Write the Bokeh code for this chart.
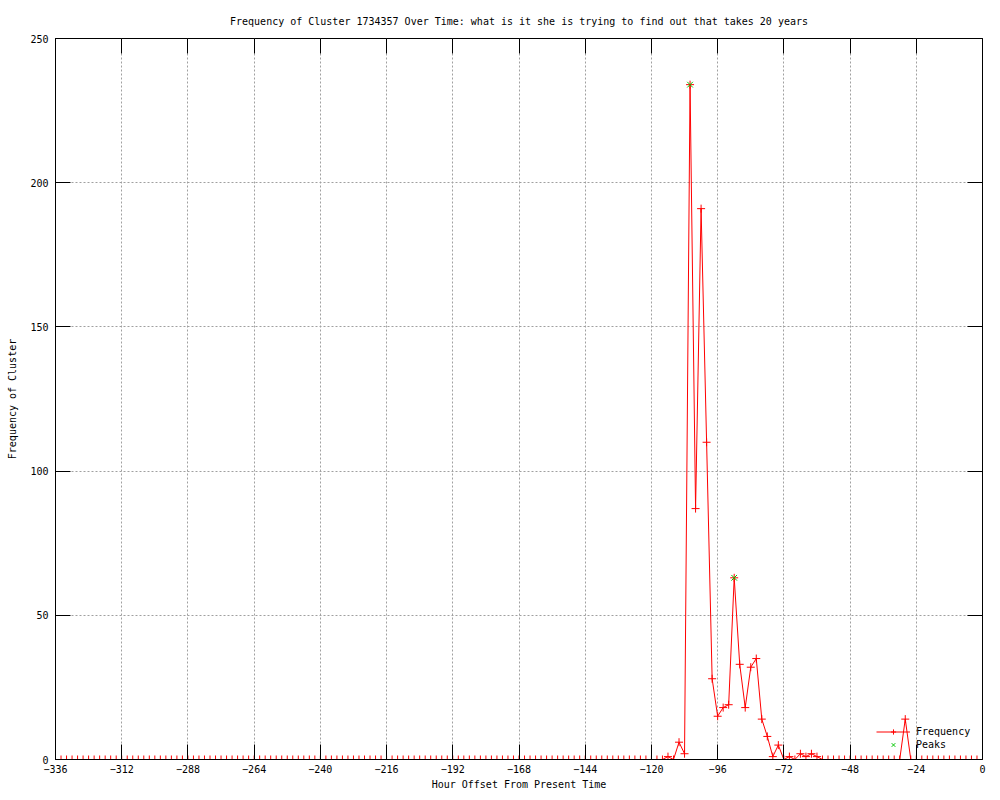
from bokeh.plotting import figure
from bokeh.models import Range1d, FixedTicker, LinearAxis, Legend, LegendItem, ColumnDataSource
from bokeh.embed import file_html
from bokeh.resources import INLINE

TITLE = "Frequency of Cluster 1734357 Over Time: what is it she is trying to find out that takes 20 years"
X_LABEL = "Hour Offset From Present Time"
Y_LABEL = "Frequency of Cluster"

# hours sampled every 2 hours from -336 to 0
hours = list(range(-336, 1, 2))
frequency = [
    0, 0, 0, 0, 0, 0, 0, 0, 0, 0, 0, 0,          # -336 .. -314
    0, 0, 0, 0, 0, 0, 0, 0, 0, 0, 0, 0,          # -312 .. -290
    0, 0, 0, 0, 0, 0, 0, 0, 0, 0, 0, 0,          # -288 .. -266
    0, 0, 0, 0, 0, 0, 0, 0, 0, 0, 0, 0,          # -264 .. -242
    0, 0, 0, 0, 0, 0, 0, 0, 0, 0, 0, 0,          # -240 .. -218
    0, 0, 0, 0, 0, 0, 0, 0, 0, 0, 0, 0,          # -216 .. -194
    0, 0, 0, 0, 0, 0, 0, 0, 0, 0, 0, 0,          # -192 .. -170
    0, 0, 0, 0, 0, 0, 0, 0, 0, 0, 0, 0,          # -168 .. -146
    0, 0, 0, 0, 0, 0, 0, 0, 0, 0, 0, 0,          # -144 .. -122
    0, 0, 0, 1, 0, 6, 2, 234, 87, 191, 110, 28,  # -120 .. -98
    15, 18, 19, 63, 33, 18, 32, 35, 14, 8, 1, 5, # -96 .. -74
    0, 1, 0, 2, 1, 2, 1, 0, 0, 0, 0, 0,          # -72 .. -50
    0, 0, 0, 0, 0, 0, 0, 0, 0, 0, 14, 0,         # -48 .. -26
    0, 0, 0, 0, 0, 0, 0, 0, 0, 0, 0, 0,          # -24 .. -2
    0,                                           # 0
]
peak_hours = [-106, -90]
peak_values = [234, 63]

x_ticks = [-336, -312, -288, -264, -240, -216, -192, -168, -144, -120, -96, -72, -48, -24, 0]
y_ticks = [0, 50, 100, 150, 200, 250]

FONT = "DejaVu Sans Mono"
FS = "10px"
RED = "#ff0000"
GREEN = "#00c800"
TICK = 15

src = ColumnDataSource(dict(h=hours, f=frequency))
peaks = ColumnDataSource(dict(h=peak_hours, f=peak_values))

p = figure(width=992, height=792, output_backend="svg", toolbar_location=None,
           x_range=Range1d(-336, 0), y_range=Range1d(0, 250),
           min_border_left=55, min_border_right=10, min_border_top=38,
           min_border_bottom=32, title=TITLE)
p.background_fill_color = "white"
p.border_fill_color = "white"
p.outline_line_color = "black"
p.outline_line_width = 1
p.outline_line_alpha = 1.0

p.title.align = "center"
p.title.text_font = FONT
p.title.text_font_size = FS
p.title.text_font_style = "normal"
p.title.text_color = "black"
p.title.standoff = 23

for g, t in ((p.xgrid, x_ticks), (p.ygrid, y_ticks)):
    g.ticker = FixedTicker(ticks=t)
    g.grid_line_color = "#a0a0a0"
    g.grid_line_dash = "2 2"
    g.grid_line_width = 1

xa = p.xaxis[0]
ya = p.yaxis[0]
xa.ticker = FixedTicker(ticks=x_ticks)
ya.ticker = FixedTicker(ticks=y_ticks)
for a in (xa, ya):
    a.major_tick_in = TICK
    a.major_tick_out = 0
    a.minor_tick_in = 0
    a.minor_tick_out = 0
    a.major_tick_line_color = "black"
    a.axis_line_color = "black"
    a.major_label_text_font = FONT
    a.major_label_text_font_size = FS
    a.major_label_text_color = "black"
    a.axis_label_text_font = FONT
    a.axis_label_text_font_size = FS
    a.axis_label_text_font_style = "normal"
    a.axis_label_text_color = "black"
xa.axis_label = X_LABEL
ya.axis_label = Y_LABEL
xa.major_label_standoff = 5
xa.axis_label_standoff = 3
ya.major_label_standoff = 7
ya.axis_label_standoff = 9

# mirrored ticks on top and right (gnuplot style), without labels
top = LinearAxis(ticker=FixedTicker(ticks=x_ticks), major_tick_in=TICK, major_tick_out=0,
                 minor_tick_in=0, minor_tick_out=0,
                 major_label_overrides={t: "" for t in x_ticks},
                 axis_line_color=None, major_label_standoff=0)
right = LinearAxis(ticker=FixedTicker(ticks=y_ticks), major_tick_in=TICK, major_tick_out=0,
                   minor_tick_in=0, minor_tick_out=0,
                   major_label_overrides={t: "" for t in y_ticks},
                   axis_line_color=None, major_label_standoff=0)
p.add_layout(top, "above")
p.add_layout(right, "right")

line_r = p.line("h", "f", source=src, line_color=RED, line_width=1)
pts_r = p.scatter("h", "f", source=src, marker="cross", size=8, line_color=RED, line_width=1)
pk_r = p.scatter("h", "f", source=peaks, marker="x", size=8, line_color=GREEN, line_width=1)

legend = Legend(items=[LegendItem(label="Frequency", renderers=[line_r, pts_r]),
                       LegendItem(label="Peaks", renderers=[pk_r])],
                location=(821, 8), orientation="vertical")
legend.label_text_font = FONT
legend.label_text_font_size = FS
legend.label_text_color = "black"
legend.glyph_width = 34
legend.glyph_height = 13
legend.label_height = 13
legend.label_standoff = 6
legend.spacing = 0
legend.padding = 0
legend.margin = 0
legend.background_fill_alpha = 0
legend.border_line_alpha = 0
p.add_layout(legend)

open("out.html", "w").write(file_html(p, INLINE))
